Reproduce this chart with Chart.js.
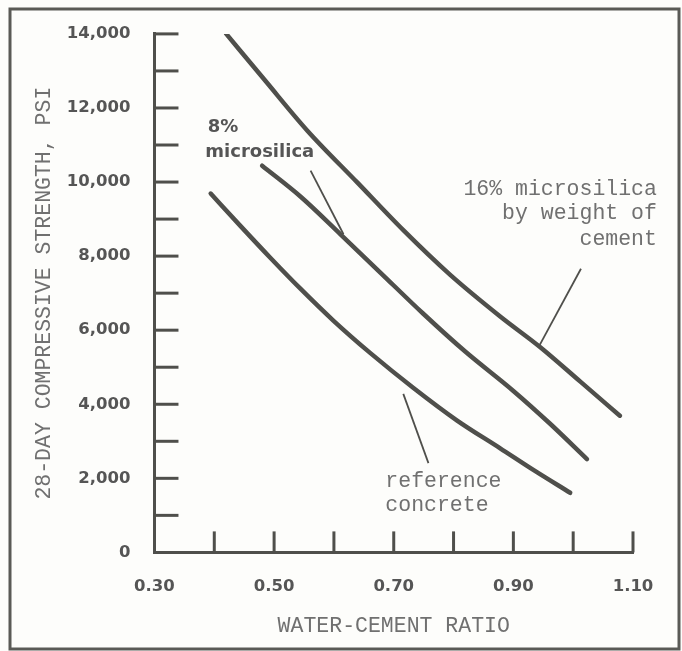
<!DOCTYPE html>
<html>
<head>
<meta charset="utf-8">
<script src="https://cdn.jsdelivr.net/npm/chart.js@4/dist/chart.umd.min.js"></script>
<style>
  html, body { margin: 0; padding: 0; background: #fdfdfb; }
</style>
</head>
<body>
<canvas id="chart" width="682" height="651"></canvas>
<script>
// values (w/c ratio vs 28-day strength in psi)
const refRatio = [0.394, 0.444, 0.494, 0.544, 0.599, 0.661, 0.733, 0.806, 0.878, 0.936, 0.995];
const refPsi   = [9690, 8810, 7950, 7120, 6260, 5380, 4440, 3560, 2810, 2200, 1610];

const ms8Ratio = [0.480, 0.544, 0.611, 0.678, 0.749, 0.819, 0.900, 0.961, 1.023];
const ms8Psi   = [10440, 9610, 8590, 7550, 6450, 5430, 4360, 3480, 2520];

const ms16Ratio = [0.420, 0.485, 0.556, 0.639, 0.716, 0.794, 0.878, 0.945, 1.012, 1.078];
const ms16Psi   = [14000, 12740, 11380, 9990, 8700, 7500, 6370, 5540, 4610, 3690];

// leader lines from the labels to the curves
const lead8  = [[0.561, 10310], [0.616, 8590]];
const lead16 = [[1.013, 7660], [0.943, 5570]];
const leadRef = [[0.716, 4280], [0.758, 2410]];

const xTickMarks = [0.4, 0.5, 0.6, 0.7, 0.8, 0.9, 1.0, 1.1];
const xTickLabels = [0.30, 0.50, 0.70, 0.90, 1.10];
const yTickMarks = [1000, 2000, 3000, 4000, 5000, 6000, 7000, 8000, 9000, 10000, 11000, 12000, 13000, 14000];

const ink = '#4f4f4b';
const typeInk = '#707070';
const typeFont = '"Liberation Mono", "DejaVu Sans Mono", monospace';
const sansFont = '"DejaVu Sans", sans-serif';

const pts = (xs, ys) => xs.map((x, i) => ({ x: x, y: ys[i] }));
const seg = p => p.map(d => ({ x: d[0], y: d[1] }));

function curve(label, data) {
  return { label: label, data: data, borderColor: ink, borderWidth: 4.5,
           cubicInterpolationMode: 'monotone', pointRadius: 0,
           borderCapStyle: 'round', fill: false };
}
function leader(data) {
  return { label: '', data: data, borderColor: ink, borderWidth: 1.8,
           tension: 0, pointRadius: 0, fill: false };
}

const decorations = {
  id: 'decorations',
  afterDraw(chart) {
    const ctx = chart.ctx, xs = chart.scales.x, ys = chart.scales.y;
    const area = chart.chartArea;
    ctx.save();
    ctx.strokeStyle = ink;
    ctx.lineWidth = 3;
    // tick marks point inward
    yTickMarks.forEach(v => {
      const py = ys.getPixelForValue(v);
      ctx.beginPath(); ctx.moveTo(area.left, py); ctx.lineTo(area.left + 24, py); ctx.stroke();
    });
    xTickMarks.forEach(v => {
      const px = xs.getPixelForValue(v);
      ctx.beginPath(); ctx.moveTo(px, area.bottom); ctx.lineTo(px, area.bottom - 21); ctx.stroke();
    });
    // outer frame of the scan
    ctx.strokeStyle = '#5a5a56';
    ctx.strokeRect(10, 9, 669, 640);

    const at = (x, y) => [xs.getPixelForValue(x), ys.getPixelForValue(y)];
    ctx.textBaseline = 'middle';
    ctx.fillStyle = '#555';
    ctx.font = 'bold 18px ' + sansFont;
    ctx.textAlign = 'left';
    let p = at(0.389, 11480); ctx.fillText('8%', p[0], p[1]);
    p = at(0.385, 10815); ctx.fillText('microsilica', p[0], p[1]);

    ctx.fillStyle = typeInk;
    ctx.font = '21.5px ' + typeFont;
    ctx.textAlign = 'right';
    [['16% microsilica', 9800], ['by weight of', 9155], ['cement', 8460]].forEach(t => {
      const q = at(1.140, t[1]); ctx.fillText(t[0], q[0], q[1]);
    });
    ctx.textAlign = 'left';
    p = at(0.686, 1930); ctx.fillText('reference', p[0], p[1]);
    p = at(0.686, 1260); ctx.fillText('concrete', p[0], p[1]);
    ctx.restore();
  }
};

new Chart(document.getElementById('chart'), {
  type: 'line',
  data: {
    datasets: [
      curve('16% microsilica', pts(ms16Ratio, ms16Psi)),
      curve('8% microsilica', pts(ms8Ratio, ms8Psi)),
      curve('reference concrete', pts(refRatio, refPsi)),
      leader(seg(lead16)),
      leader(seg(lead8)),
      leader(seg(leadRef))
    ]
  },
  options: {
    responsive: false,
    animation: false,
    layout: { autoPadding: false, padding: { top: 27, right: 49, bottom: 12, left: 31 } },
    plugins: { legend: { display: false }, tooltip: { enabled: false } },
    scales: {
      x: {
        type: 'linear',
        min: 0.30,
        max: 1.10,
        afterBuildTicks: axis => { axis.ticks = xTickLabels.map(v => ({ value: v })); },
        grid: { display: false, drawTicks: false },
        border: { display: true, color: ink, width: 3 },
        ticks: {
          padding: 24,
          color: '#555',
          font: { family: sansFont, size: 16.5, weight: 'bold' },
          callback: v => v.toFixed(2)
        },
        title: {
          display: true,
          text: 'WATER-CEMENT RATIO',
          color: typeInk,
          font: { family: typeFont, size: 21.5 },
          padding: { top: -7, bottom: 0 }
        }
      },
      y: {
        min: 0,
        max: 14000,
        grid: { display: false, drawTicks: false },
        border: { display: true, color: ink, width: 3 },
        ticks: {
          stepSize: 2000,
          padding: 24,
          color: '#555',
          font: { family: sansFont, size: 16.5, weight: 'bold' },
          callback: v => v.toLocaleString('en-US')
        },
        title: {
          display: true,
          text: '28-DAY COMPRESSIVE STRENGTH, PSI',
          color: typeInk,
          font: { family: typeFont, size: 21.5 },
          padding: { top: 0, bottom: -14 }
        }
      }
    }
  },
  plugins: [decorations]
});
</script>
</body>
</html>
